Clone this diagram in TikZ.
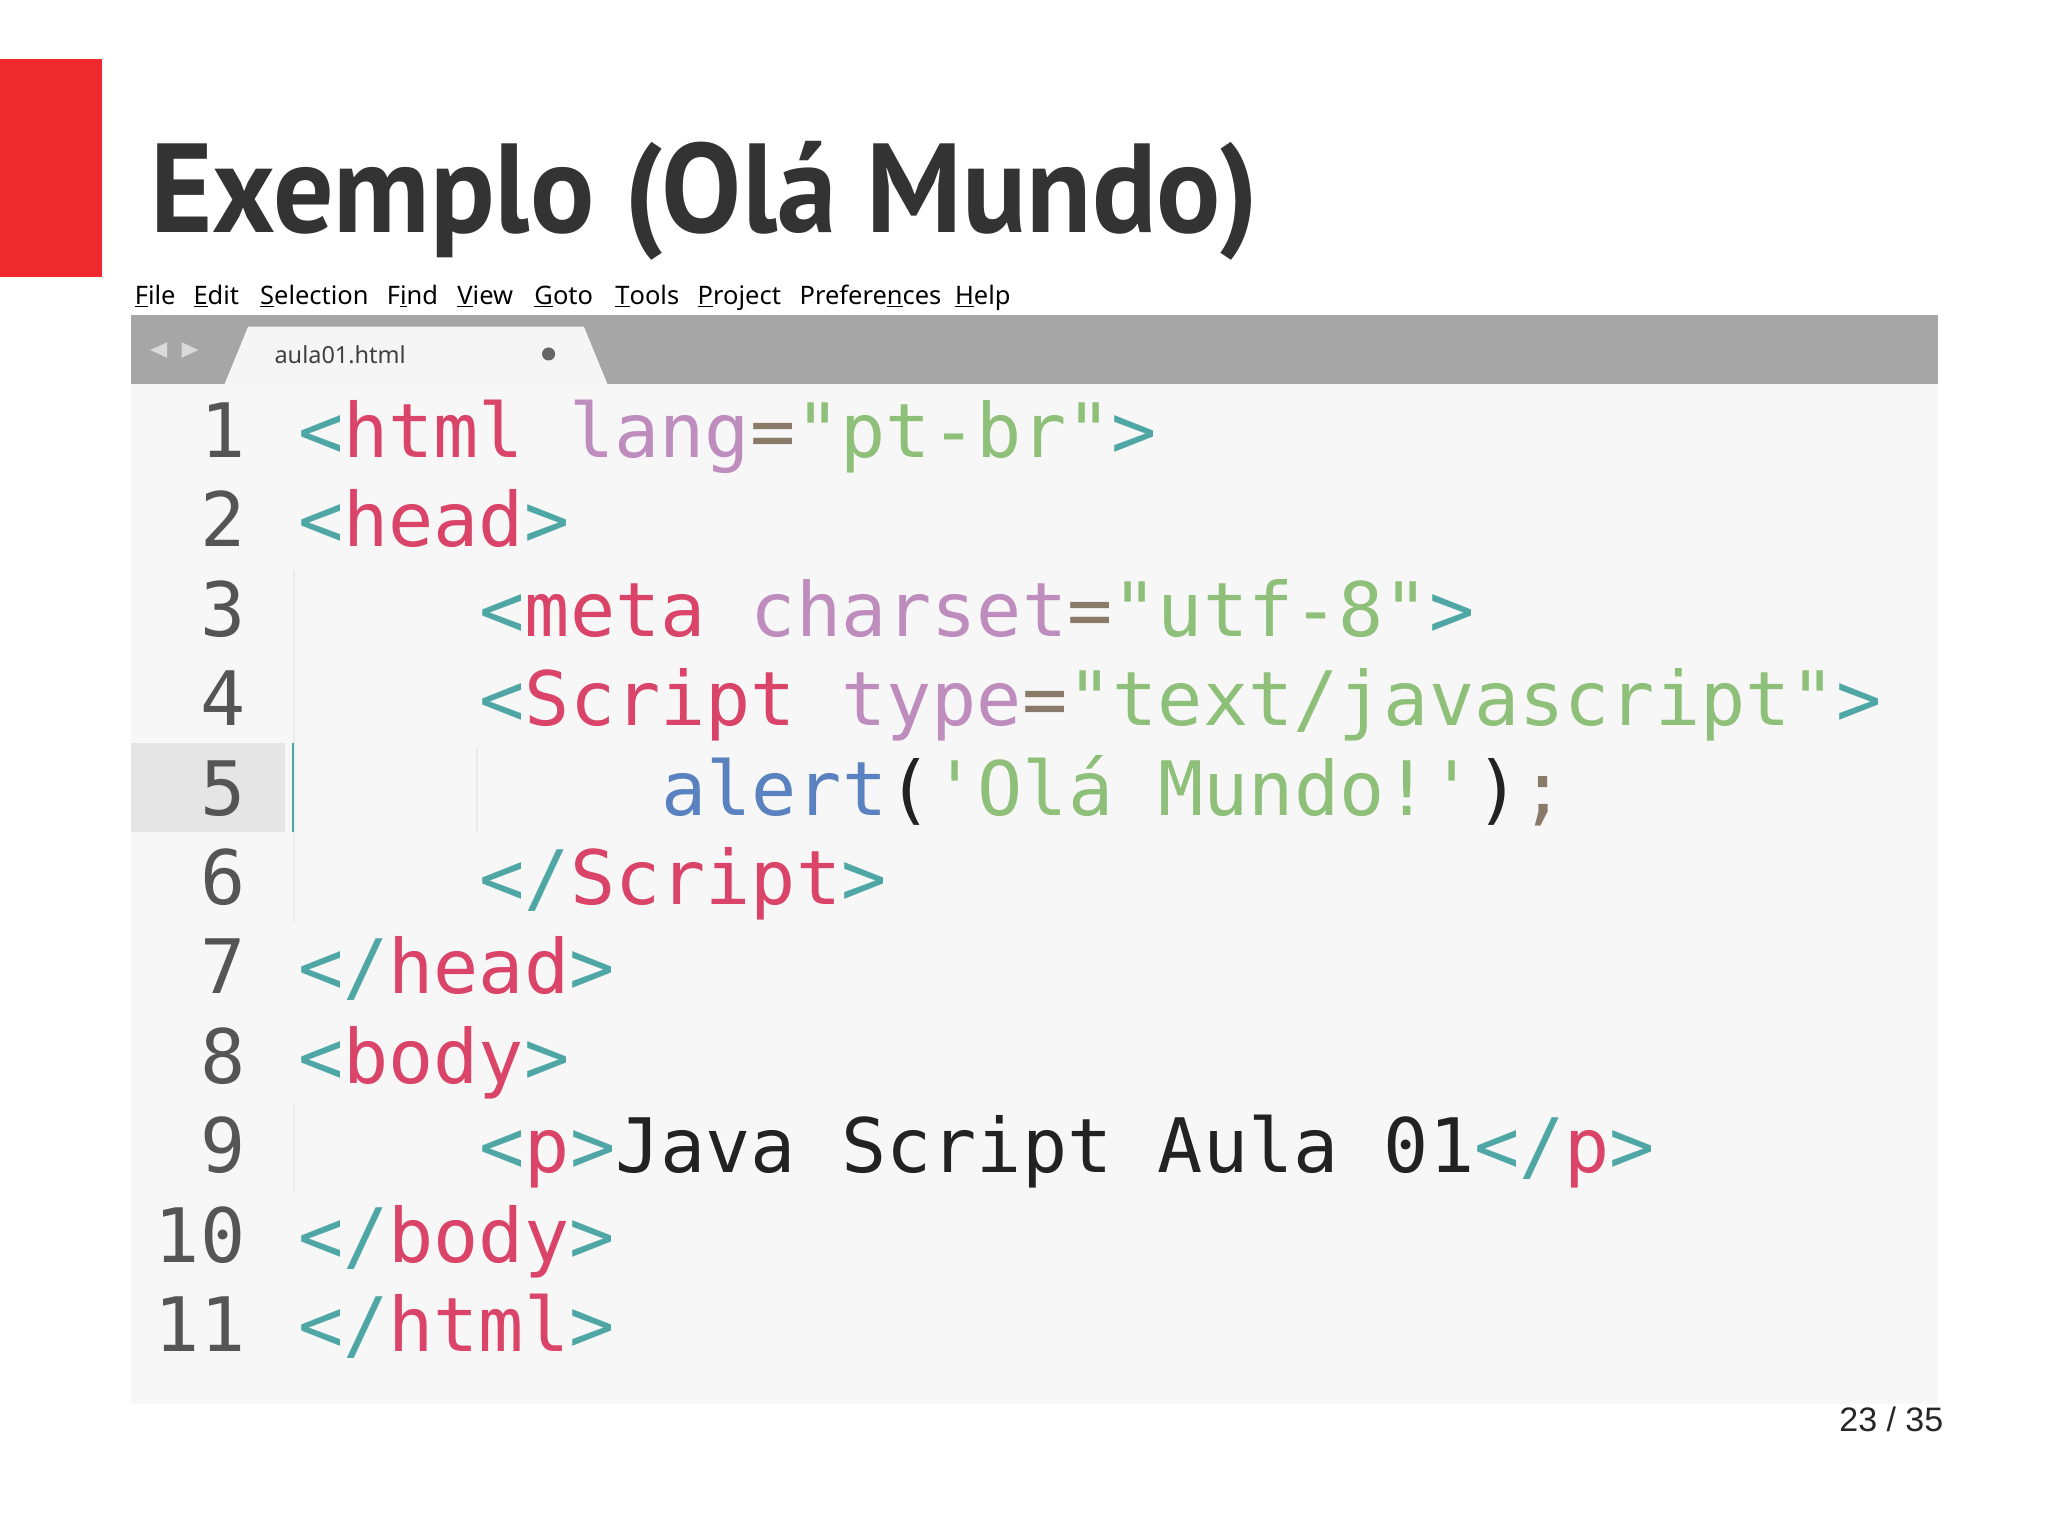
\documentclass[tikz,border=0pt]{standalone}
\usepackage{fontspec}
\setmainfont{PT Sans}
\setmonofont{DejaVu Sans Mono}
\newfontfamily\menufont{Noto Sans}
\newfontfamily\pgfont{Liberation Sans}
\definecolor{tl}{HTML}{4FA7A5}
\definecolor{tn}{HTML}{D94468}
\definecolor{at}{HTML}{BE8DBE}
\definecolor{st}{HTML}{8FC07A}
\definecolor{fn}{HTML}{5A82C0}
\definecolor{eq}{HTML}{8A7A6A}
\definecolor{tx}{HTML}{222222}
\definecolor{ln}{HTML}{555555}
\definecolor{redbar}{HTML}{EE2A2E}
\newcommand{\Tl}[1]{\textcolor{tl}{#1}}
\newcommand{\Tn}[1]{\textcolor{tn}{#1}}
\newcommand{\At}[1]{\textcolor{at}{#1}}
\newcommand{\St}[1]{\textcolor{st}{#1}}
\newcommand{\Fn}[1]{\textcolor{fn}{#1}}
\newcommand{\Eq}[1]{\textcolor{eq}{#1}}
\tikzset{code/.style={anchor=base west,inner sep=0,font=\fontsize{57.5}{58}\ttfamily,text=tx},
 lnum/.style={anchor=base east,inner sep=0,font=\fontsize{57.5}{58}\ttfamily,text=ln},
 menu/.style={anchor=base west,inner sep=0,font=\fontsize{19.5}{20}\menufont,text=black}}
\begin{document}
\begin{tikzpicture}[x=1pt,y=-1pt]
\useasboundingbox (0,0) rectangle (1568,1175);
\fill[white] (0,0) rectangle (1568,1175);
\fill[redbar] (0,45) rectangle (78,212);
\node[anchor=base west,inner sep=0,text=black!80] (title) at (115,178) {\scalebox{0.945}[1]{\fontsize{97}{97}\selectfont\bfseries Exemplo (Olá Mundo)}};
\node[menu] (m1) at (103,233) {\underline{F}ile};
\node[menu] (m2) at (148,233) {\underline{E}dit};
\node[menu] (m3) at (199,233) {\underline{S}election};
\node[menu] (m4) at (296,233) {F\underline{i}nd};
\node[menu] (m5) at (350,233) {\underline{V}iew};
\node[menu] (m6) at (409,233) {\underline{G}oto};
\node[menu] (m7) at (471,233) {\underline{T}ools};
\node[menu] (m8) at (534,233) {\underline{P}roject};
\node[menu] (m9) at (612,233) {Prefere\underline{n}ces};
\node[menu] (m10) at (731,233) {\underline{H}elp};
\fill[black!35] (100,241) rectangle (1484,294);
\fill[white!96!black] (172,294) -- (190,250) -- (447,250) -- (465,294) -- cycle;
\fill[black!15] (128,262) -- (115,268) -- (128,274) -- cycle;
\fill[black!15] (139,262) -- (152,268) -- (139,274) -- cycle;
\node[anchor=base west,inner sep=0,font=\fontsize{18}{18}\menufont,text=black!75] (tab) at (210,278) {aula01.html};
\fill[black!60] (420,271) circle (5);
\fill[white!97!black] (100,294) rectangle (1484,1075);
\fill[black!10] (100,569) rectangle (218,637);
\foreach \y/\h in {437/637,637/706,846/912} \draw[black!8,line width=1.2] (225,\y) -- (225,\h);
\draw[black!8,line width=1.2] (365,572) -- (365,637);
\draw[tl,line width=1.5] (224,569) -- (224,637);
\foreach \n in {1,...,11} \node[lnum] (n\n) at (188,{350+(\n-1)*68.5}) {\n};
\node[code] (c1) at (228,350) {\Tl{<}\Tn{html} \At{lang}\Eq{=}\St{"pt-br"}\Tl{>}};
\node[code] (c2) at (228,418.5) {\Tl{<}\Tn{head}\Tl{>}};
\node[code] (c3) at (367,487) {\Tl{<}\Tn{meta} \At{charset}\Eq{=}\St{"utf-8"}\Tl{>}};
\node[code] (c4) at (367,555.5) {\Tl{<}\Tn{Script} \At{type}\Eq{=}\St{"text/javascript"}\Tl{>}};
\node[code] (c5) at (506,624) {\Fn{alert}(\St{'Olá Mundo!'})\Eq{;}};
\node[code] (c6) at (367,692.5) {\Tl{</}\Tn{Script}\Tl{>}};
\node[code] (c7) at (228,761) {\Tl{</}\Tn{head}\Tl{>}};
\node[code] (c8) at (228,829.5) {\Tl{<}\Tn{body}\Tl{>}};
\node[code] (c9) at (367,898) {\Tl{<}\Tn{p}\Tl{>}Java Script Aula 01\Tl{</}\Tn{p}\Tl{>}};
\node[code] (c10) at (228,966.5) {\Tl{</}\Tn{body}\Tl{>}};
\node[code] (c11) at (228,1035) {\Tl{</}\Tn{html}\Tl{>}};
\node[anchor=base east,inner sep=0,font=\fontsize{26}{26}\pgfont,text=black!85] (pg) at (1488,1096) {23 / 35};
\end{tikzpicture}
\end{document}
